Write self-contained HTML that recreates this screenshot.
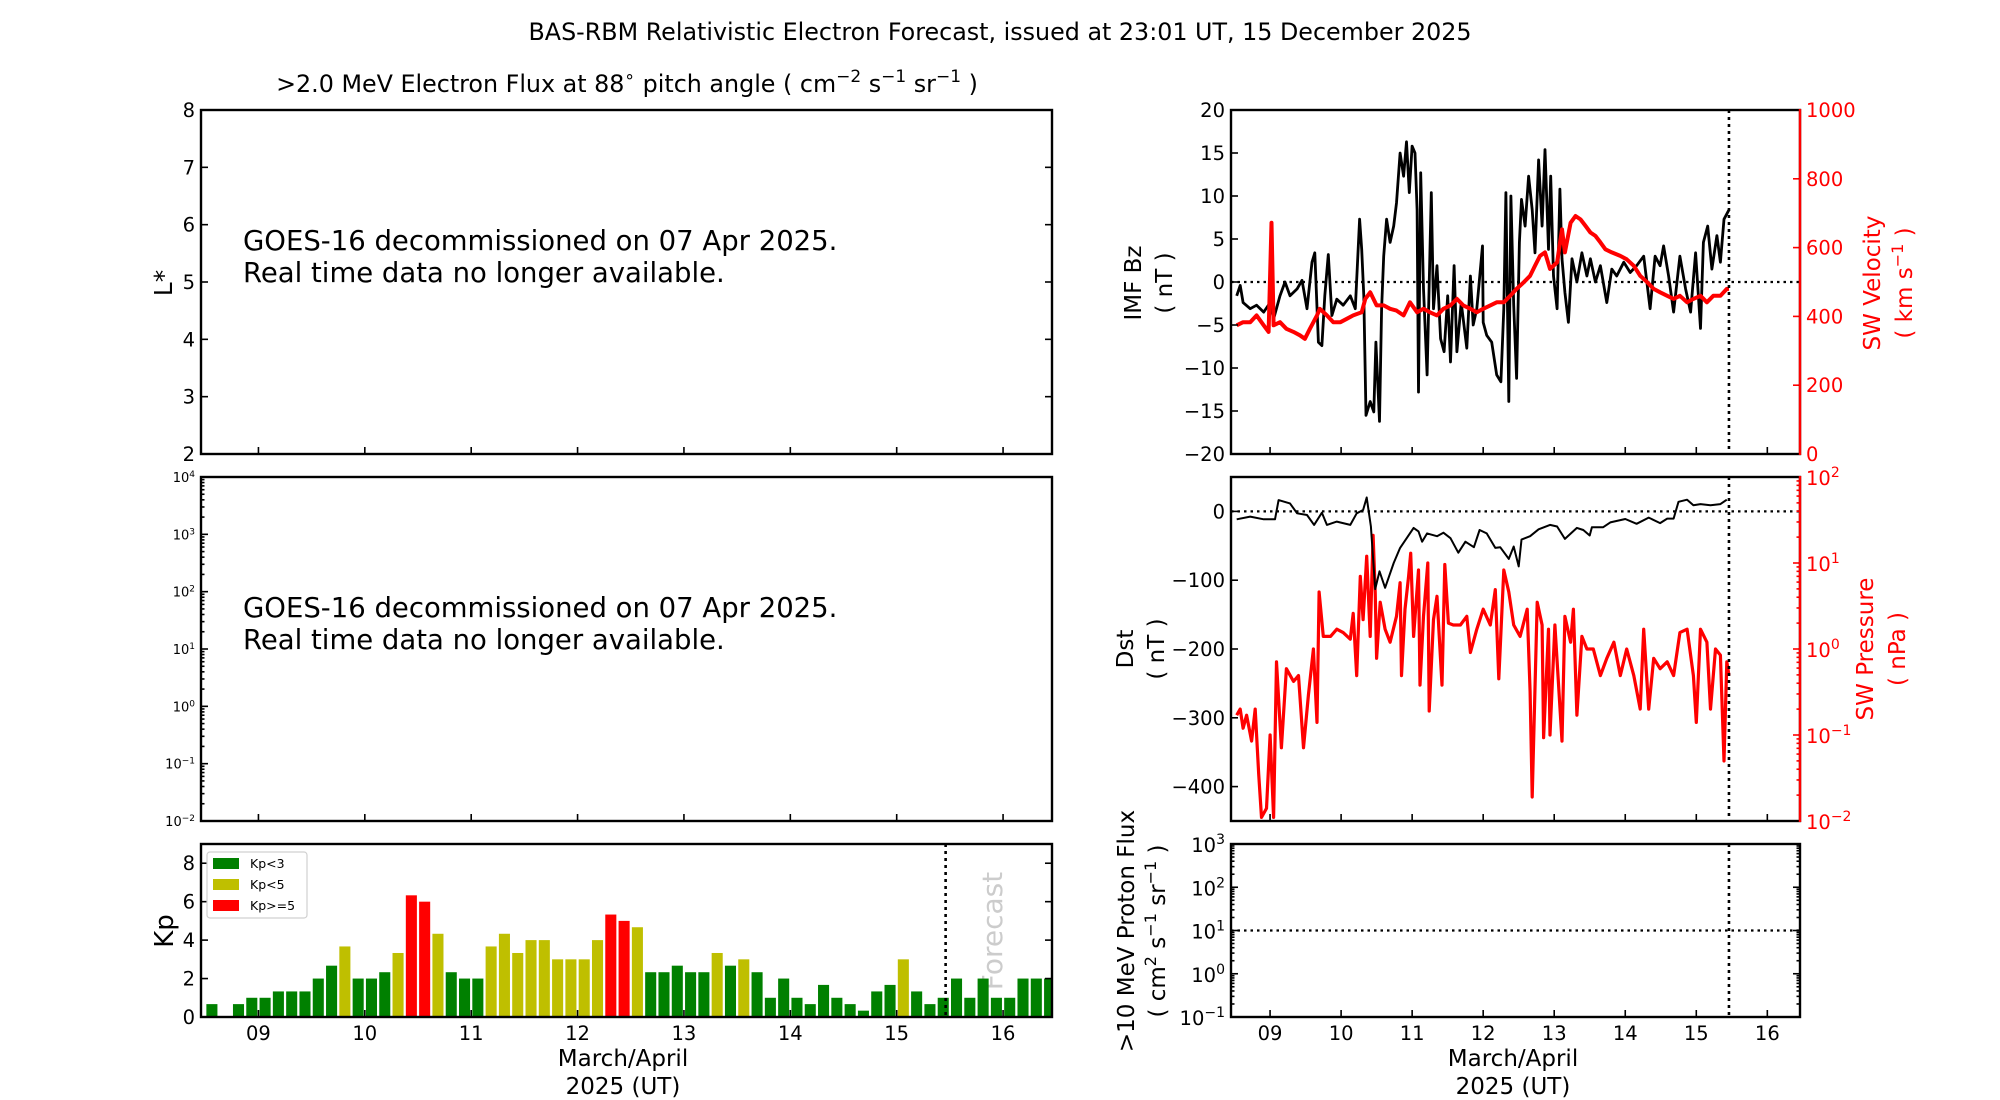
<!DOCTYPE html>
<html><head><meta charset="utf-8"><title>BAS-RBM Forecast</title>
<style>
html,body{margin:0;padding:0;background:#fff;}
svg{display:block;font-family:"DejaVu Sans","Liberation Sans",sans-serif;}
</style></head>
<body>
<svg id="chart" xmlns="http://www.w3.org/2000/svg" width="2000" height="1100" viewBox="0 0 2000 1100">
<rect x="0" y="0" width="2000" height="1100" fill="#fff"/>
<text x="1000" y="40" text-anchor="middle" font-size="23.8">BAS-RBM Relativistic Electron Forecast, issued at 23:01 UT, 15 December 2025</text>
<text x="627" y="92" text-anchor="middle" font-size="23.8">&gt;2.0 MeV Electron Flux at 88<tspan font-size="17" baseline-shift="super">∘</tspan> pitch angle ( cm<tspan font-size="17" baseline-shift="super">−2</tspan> s<tspan font-size="17" baseline-shift="super">−1</tspan> sr<tspan font-size="17" baseline-shift="super">−1</tspan> )</text>

<text x="243" y="250" font-size="27.5">GOES-16 decommissioned on 07 Apr 2025.</text>
<text x="243" y="282" font-size="27.5">Real time data no longer available.</text>
<text x="243" y="617" font-size="27.5">GOES-16 decommissioned on 07 Apr 2025.</text>
<text x="243" y="649" font-size="27.5">Real time data no longer available.</text>

<text x="172" y="283" font-size="25" text-anchor="middle" transform="rotate(-90 172 283)">L*</text>
<text x="173" y="931" font-size="26" text-anchor="middle" transform="rotate(-90 173 931)">Kp</text>
<text x="1002" y="931" font-size="28" fill="#cccccc" text-anchor="middle" transform="rotate(-90 1002 931)">Forecast</text>

<text x="623" y="1066" font-size="23" text-anchor="middle">March/April</text>
<text x="623" y="1094" font-size="23" text-anchor="middle">2025 (UT)</text>
<text x="1513" y="1066" font-size="23" text-anchor="middle">March/April</text>
<text x="1513" y="1094" font-size="23" text-anchor="middle">2025 (UT)</text>

<text x="1141" y="283" font-size="23" text-anchor="middle" transform="rotate(-90 1141 283)">IMF Bz</text>
<text x="1172" y="283" font-size="23" text-anchor="middle" transform="rotate(-90 1172 283)">( nT )</text>
<text x="1880" y="283" font-size="23" fill="#ff0000" text-anchor="middle" transform="rotate(-90 1880 283)">SW Velocity</text>
<text x="1912" y="283" font-size="23" fill="#ff0000" text-anchor="middle" transform="rotate(-90 1912 283)">( km s<tspan font-size="16" baseline-shift="super">−1</tspan> )</text>
<text x="1133" y="649" font-size="23" text-anchor="middle" transform="rotate(-90 1133 649)">Dst</text>
<text x="1164" y="649" font-size="23" text-anchor="middle" transform="rotate(-90 1164 649)">( nT )</text>
<text x="1873" y="649" font-size="23" fill="#ff0000" text-anchor="middle" transform="rotate(-90 1873 649)">SW Pressure</text>
<text x="1905" y="649" font-size="23" fill="#ff0000" text-anchor="middle" transform="rotate(-90 1905 649)">( nPa )</text>
<text x="1134" y="931" font-size="23" text-anchor="middle" transform="rotate(-90 1134 931)">&gt;10 MeV Proton Flux</text>
<text x="1165" y="931" font-size="23" text-anchor="middle" transform="rotate(-90 1165 931)">( cm<tspan font-size="16" baseline-shift="super">2</tspan> s<tspan font-size="16" baseline-shift="super">−1</tspan> sr<tspan font-size="16" baseline-shift="super">−1</tspan> )</text>

<g id="layer"></g>

<g>
<rect x="207" y="852" width="100" height="66" rx="3" fill="#fff" stroke="#d0d0d0" stroke-width="1.2"/>
<rect x="213" y="858" width="26" height="11" fill="#008000"/>
<text x="250" y="868" font-size="12.5">Kp&lt;3</text>
<rect x="213" y="879" width="26" height="11" fill="#bfbf00"/>
<text x="250" y="889" font-size="12.5">Kp&lt;5</text>
<rect x="213" y="900" width="26" height="11" fill="#ff0000"/>
<text x="250" y="910" font-size="12.5">Kp&gt;=5</text>
</g>
</svg>
<script>
// ---------- data ----------
const kpStartDay = 8.5;
const kpValues = [0.67,0,0.67,1,1,1.33,1.33,1.33,2,2.67,3.67,2,2,2.33,3.33,6.33,6,4.33,2.33,2,2,3.67,4.33,3.33,4,4,3,3,3,4,5.33,5,4.67,2.33,2.33,2.67,2.33,2.33,3.33,2.67,3,2.33,1,2,1,0.67,1.67,1,0.67,0.33,1.33,1.67,3,1.33,0.67,1,2,1,2,1,1,2,2,2];
const dayTicks = [9,10,11,12,13,14,15,16];
const dayTickLabels = ["09","10","11","12","13","14","15","16"];
const forecastDay = 15.46;

const bzDays = [8.53,8.58,8.62,8.72,8.81,8.91,9.00,9.05,9.14,9.21,9.28,9.38,9.45,9.52,9.59,9.63,9.68,9.73,9.77,9.82,9.87,9.94,10.03,10.13,10.20,10.26,10.29,10.32,10.35,10.41,10.46,10.49,10.54,10.57,10.60,10.64,10.69,10.74,10.78,10.83,10.88,10.92,10.96,11.00,11.04,11.07,11.09,11.12,11.16,11.21,11.27,11.30,11.35,11.40,11.45,11.50,11.54,11.59,11.63,11.69,11.77,11.82,11.86,11.91,11.99,12.00,12.05,12.12,12.19,12.25,12.29,12.32,12.36,12.39,12.43,12.47,12.51,12.54,12.59,12.64,12.69,12.73,12.78,12.83,12.87,12.92,12.95,12.99,13.04,13.08,13.11,13.15,13.20,13.25,13.32,13.39,13.46,13.51,13.58,13.65,13.74,13.81,13.88,13.98,14.07,14.16,14.26,14.35,14.42,14.49,14.54,14.61,14.68,14.77,14.85,14.92,14.99,15.06,15.10,15.16,15.22,15.29,15.34,15.39,15.46];
const bzValues = [-1.6,-0.4,-2.4,-3.1,-2.7,-3.5,-2.4,-4.3,-1.6,0,-1.6,-0.8,0.2,-3.1,2.3,3.4,-7,-7.4,-1.6,3.2,-3.9,-2,-2.7,-1.6,-3.1,7.3,3.8,-1.6,-15.5,-13.9,-15.1,-7,-16.2,-3.1,3,7.3,4.6,6.5,9.2,15,12.3,16.3,10.4,15.8,15,8.4,-12.8,12.7,-0.8,-10.8,10.4,-3.1,1.9,-6.6,-8.1,-1.6,-9.3,1.9,-8.1,-2.4,-7.7,0.7,-5,-3.1,4.2,-4.7,-6.2,-7,-10.8,-11.6,-3.1,10.4,-13.9,10,-2.7,-11.2,4.6,9.6,6.5,12.3,8.4,3.4,14.2,6.5,15.4,3.8,12.3,0.7,-3.1,10.8,2.7,-1.2,-4.7,2.7,0,3.4,0.7,2.7,0,1.9,-2.4,1.5,0.7,2.3,1.1,1.9,3,-3.1,3,1.9,4.2,0.7,-3.5,3,-0.8,-3.5,3.4,-5.4,4.6,6.5,1.5,5.4,2.3,7.3,8.4];

const velDays = [8.53,8.62,8.72,8.81,8.91,8.98,9.02,9.05,9.14,9.23,9.33,9.42,9.49,9.56,9.66,9.70,9.80,9.89,9.99,10.08,10.17,10.29,10.34,10.41,10.50,10.60,10.69,10.78,10.88,10.97,11.07,11.16,11.25,11.35,11.44,11.54,11.63,11.72,11.82,11.91,12.00,12.10,12.19,12.29,12.38,12.47,12.57,12.66,12.73,12.80,12.87,12.94,13.04,13.11,13.15,13.23,13.30,13.37,13.44,13.51,13.58,13.65,13.72,13.81,13.93,14.02,14.12,14.21,14.31,14.40,14.49,14.59,14.68,14.77,14.87,14.96,15.06,15.15,15.24,15.34,15.43,15.46];
const velValues = [374,383,383,403,374,355,672,374,383,364,355,345,335,364,403,422,403,383,383,393,403,412,451,470,432,432,422,417,403,441,412,422,412,403,422,432,451,432,422,412,422,432,441,441,460,480,499,518,547,576,586,538,557,653,586,672,692,682,663,644,634,615,595,586,576,566,547,518,499,480,470,460,451,460,441,451,460,441,460,460,480,480];

const dstDays = [8.53,8.72,8.91,9.07,9.12,9.28,9.38,9.52,9.62,9.73,9.80,9.94,10.13,10.22,10.31,10.36,10.42,10.48,10.54,10.62,10.74,10.83,11.02,11.09,11.14,11.21,11.35,11.44,11.54,11.65,11.75,11.87,11.95,12.05,12.17,12.24,12.36,12.43,12.50,12.54,12.66,12.78,12.94,13.04,13.15,13.32,13.41,13.50,13.53,13.69,13.79,14.00,14.16,14.33,14.49,14.59,14.68,14.75,14.87,14.96,15.06,15.20,15.34,15.43];
const dstValues = [-11.5,-7.6,-11.5,-11.5,16.4,11.6,-2.8,-5.2,-19.6,-1.9,-19.6,-14.8,-19.6,-2.8,2,20.2,-22,-113,-87,-111,-75,-53,-24,-29,-44,-32,-36,-31,-39,-60,-44,-52,-27,-32,-53,-52,-69,-51,-80,-41,-36,-26,-19.6,-22,-40,-24,-27,-35,-23,-23,-16,-11,-18,-9,-17,-10.5,-10.5,14,17,9,10.6,9,10.6,17];

const presDays = [8.53,8.58,8.62,8.67,8.74,8.79,8.84,8.88,8.95,9.00,9.05,9.09,9.16,9.23,9.33,9.40,9.47,9.54,9.61,9.66,9.69,9.75,9.85,9.94,10.03,10.13,10.17,10.22,10.27,10.31,10.36,10.41,10.45,10.48,10.50,10.55,10.62,10.69,10.78,10.83,10.85,10.90,10.95,10.98,11.02,11.09,11.11,11.16,11.22,11.24,11.30,11.35,11.42,11.46,11.51,11.58,11.68,11.77,11.82,11.91,12.00,12.10,12.17,12.22,12.29,12.36,12.43,12.52,12.62,12.66,12.69,12.76,12.83,12.85,12.92,12.94,13.01,13.11,13.15,13.23,13.27,13.32,13.39,13.46,13.55,13.65,13.74,13.84,13.93,14.02,14.12,14.21,14.26,14.33,14.40,14.49,14.59,14.68,14.77,14.87,14.96,15.00,15.06,15.15,15.20,15.27,15.34,15.39,15.43,15.46];
const presValues = [0.17,0.20,0.12,0.17,0.085,0.20,0.035,0.011,0.014,0.10,0.011,0.71,0.071,0.59,0.42,0.49,0.071,0.29,1.0,0.14,4.6,1.4,1.4,1.7,1.55,1.3,2.6,0.49,7.0,2.2,12,1.4,21,4.6,0.78,3.5,1.7,1.2,2.4,5.9,0.49,2.9,7.0,13,1.4,8.3,0.38,2.4,10,0.19,2.2,4.1,0.38,9.6,2.0,1.9,1.9,2.4,0.91,1.7,2.9,1.9,4.9,0.45,8.3,4.6,1.9,1.4,2.9,0.32,0.019,3.5,1.9,0.093,1.7,0.10,1.9,0.085,2.4,1.2,2.9,0.17,1.4,1.0,1.0,0.49,0.78,1.2,0.49,1.0,0.49,0.2,1.7,0.2,0.78,0.59,0.71,0.49,1.55,1.7,0.49,0.14,1.7,1.2,0.2,1.0,0.85,0.05,0.71,0.49];

const protonThreshold = 10;
const lstarTicks = [2,3,4,5,6,7,8];
const fluxExps = [-2,-1,0,1,2,3,4];
const kpTicks = [0,2,4,6,8];
const bzTicks = [-20,-15,-10,-5,0,5,10,15,20];
const velTicks = [0,200,400,600,800,1000];
const dstTicks = [0,-100,-200,-300,-400];
const presExps = [-2,-1,0,1,2];
const protonExps = [-1,0,1,2,3];

// ---------- layout ----------
const NS = "http://www.w3.org/2000/svg";
const layer = document.getElementById('layer');
const L = {x0:201, x1:1052, d0:8.46, d1:16.46};
const R = {x0:1231, x1:1800, d0:8.45, d1:16.46};
const P1 = {y0:110, y1:454}, P2 = {y0:477, y1:821}, P3 = {y0:844, y1:1017};
const xL = d => L.x0 + (d - L.d0) / (L.d1 - L.d0) * (L.x1 - L.x0);
const xR = d => R.x0 + (d - R.d0) / (R.d1 - R.d0) * (R.x1 - R.x0);
const lin = (p, lo, hi) => v => p.y1 - (v - lo) / (hi - lo) * (p.y1 - p.y0);
const logS = (p, lo, hi) => v => p.y1 - (Math.log10(v) - lo) / (hi - lo) * (p.y1 - p.y0);
const yLstar = lin(P1, 2, 8);
const yFlux = logS(P2, -2, 4);
const yKp = lin(P3, 0, 9);
const yBz = lin(P1, -20, 20);
const yVel = lin(P1, 0, 1000);
const yDst = lin(P2, -450, 50);
const yPres = logS(P2, -2, 2);
const yProt = logS(P3, -1, 3);

function mk(tag, attrs, parent) {
  const e = document.createElementNS(NS, tag);
  for (const k in attrs) e.setAttribute(k, attrs[k]);
  (parent || layer).appendChild(e);
  return e;
}
function pathFrom(days, vals, xf, yf) {
  const n = Math.min(days.length, vals.length);
  let d = '';
  for (let i = 0; i < n; i++) d += (i ? 'L' : 'M') + xf(days[i]).toFixed(1) + ',' + yf(vals[i]).toFixed(1);
  return d;
}
function powLabel(x, y, exp, anchor, size, color) {
  const t = mk('text', {x:x, y:y, 'text-anchor':anchor, 'font-size':size, fill:color});
  t.appendChild(document.createTextNode('10'));
  const s = mk('tspan', {'font-size':Math.round(size*0.7), 'baseline-shift':'super'}, t);
  s.textContent = (exp < 0 ? '−' : '') + Math.abs(exp);
  return t;
}

// ---------- Kp bars ----------
const clipK = mk('clipPath', {id:'clipKp'});
mk('rect', {x:L.x0, y:P3.y0, width:L.x1-L.x0, height:P3.y1-P3.y0}, clipK);
const kpGroup = mk('g', {'clip-path':'url(#clipKp)'});


kpValues.forEach((v, i) => {
  const c = kpStartDay + (i + 0.5) * 0.125;
  const col = v < 3 ? '#008000' : (v < 5 ? '#bfbf00' : '#ff0000');
  const b = mk('rect', {x:xL(c - 0.052), y:yKp(v), width:xL(c + 0.052) - xL(c - 0.052), height:yKp(0) - yKp(v), fill:col}, kpGroup);
  
  
});

// ---------- right panel series ----------
const clipR1 = mk('clipPath', {id:'clipR1'});
mk('rect', {x:R.x0, y:P1.y0, width:R.x1-R.x0, height:P1.y1-P1.y0}, clipR1);
const clipR2 = mk('clipPath', {id:'clipR2'});
mk('rect', {x:R.x0, y:P2.y0, width:R.x1-R.x0, height:P2.y1-P2.y0}, clipR2);

const zBz = mk('line', {x1:R.x0, x2:R.x1, y1:yBz(0), y2:yBz(0), stroke:'#000', 'stroke-width':2.2, 'stroke-dasharray':'2.5,4'});


const bzLine = mk('path', {d:pathFrom(bzDays, bzValues, xR, yBz), fill:'none', stroke:'#000', 'stroke-width':2.8, 'stroke-linejoin':'round', 'clip-path':'url(#clipR1)'});


const velLine = mk('path', {d:pathFrom(velDays, velValues, xR, yVel), fill:'none', stroke:'#ff0000', 'stroke-width':4, 'stroke-linejoin':'round', 'clip-path':'url(#clipR1)'});



const presLine = mk('path', {d:pathFrom(presDays, presValues, xR, yPres), fill:'none', stroke:'#ff0000', 'stroke-width':3.2, 'stroke-linejoin':'round', 'clip-path':'url(#clipR2)'});


const zDst = mk('line', {x1:R.x0, x2:R.x1, y1:yDst(0), y2:yDst(0), stroke:'#000', 'stroke-width':2.2, 'stroke-dasharray':'2.5,4'});


const dstLine = mk('path', {d:pathFrom(dstDays, dstValues, xR, yDst), fill:'none', stroke:'#000', 'stroke-width':2, 'stroke-linejoin':'round', 'clip-path':'url(#clipR2)'});



const pThr = mk('line', {x1:R.x0, x2:R.x1, y1:yProt(protonThreshold), y2:yProt(protonThreshold), stroke:'#000', 'stroke-width':2.2, 'stroke-dasharray':'2.5,4'});



// forecast lines
[[xL(forecastDay), P3], [xR(forecastDay), P1], [xR(forecastDay), P2], [xR(forecastDay), P3]].forEach(([x, p]) => {
  const f = mk('line', {x1:x, x2:x, y1:p.y0, y2:p.y1, stroke:'#000', 'stroke-width':2.6, 'stroke-dasharray':'3,4'});
  
  
});

// ---------- frames & ticks ----------
function frame(x0, x1, p, name) {
  const r = mk('rect', {x:x0, y:p.y0, width:x1-x0, height:p.y1-p.y0, fill:'none', stroke:'#000', 'stroke-width':2.4});
  
  
}
function tick(x1, y1, x2, y2, col) {
  const t = mk('line', {x1:x1, y1:y1, x2:x2, y2:y2, stroke:col || '#000', 'stroke-width':1.6});
  
  
}
function yLabel(x, y, s, anchor, col) {
  const t = mk('text', {x:x, y:y + 7, 'text-anchor':anchor, 'font-size':19.5, fill:col || '#000'});
  t.textContent = s;
  
  
}
const fmt = v => (v < 0 ? '−' + Math.abs(v) : String(v));

[P1, P2, P3].forEach(p => dayTicks.forEach(d => tick(xL(d), p.y1, xL(d), p.y1 - 7)));
[P1, P2, P3].forEach(p => dayTicks.forEach(d => tick(xR(d), p.y1, xR(d), p.y1 - 7)));
dayTicks.forEach((d, i) => {
  const a = mk('text', {x:xL(d), y:1040, 'text-anchor':'middle', 'font-size':19.5});
  a.textContent = dayTickLabels[i];
  
  
  const b = mk('text', {x:xR(d), y:1040, 'text-anchor':'middle', 'font-size':19.5});
  b.textContent = dayTickLabels[i];
  
  
});

lstarTicks.forEach(v => { tick(L.x0, yLstar(v), L.x0 + 7, yLstar(v)); tick(L.x1, yLstar(v), L.x1 - 7, yLstar(v)); yLabel(L.x0 - 6, yLstar(v), String(v), 'end'); });
fluxExps.forEach(e => {
  tick(L.x0, yFlux(Math.pow(10, e)), L.x0 + 7, yFlux(Math.pow(10, e)));
  const t = powLabel(L.x0 - 6, yFlux(Math.pow(10, e)) + 5, e, 'end', 13, '#000');
  
  
  if (e < 4) for (let m = 2; m < 10; m++) tick(L.x0, yFlux(m * Math.pow(10, e)), L.x0 + 3.5, yFlux(m * Math.pow(10, e)));
});
kpTicks.forEach(v => { tick(L.x0, yKp(v), L.x0 + 7, yKp(v)); tick(L.x1, yKp(v), L.x1 - 7, yKp(v)); yLabel(L.x0 - 6, yKp(v), String(v), 'end'); });

bzTicks.forEach(v => { tick(R.x0, yBz(v), R.x0 + 7, yBz(v)); yLabel(R.x0 - 6, yBz(v), fmt(v), 'end'); });
velTicks.forEach(v => { tick(R.x1, yVel(v), R.x1 - 7, yVel(v), '#ff0000'); yLabel(R.x1 + 6, yVel(v), String(v), 'start', '#ff0000'); });
dstTicks.forEach(v => { tick(R.x0, yDst(v), R.x0 + 7, yDst(v)); yLabel(R.x0 - 6, yDst(v), fmt(v), 'end'); });
presExps.forEach(e => {
  const y = yPres(Math.pow(10, e));
  tick(R.x1, y, R.x1 - 7, y, '#ff0000');
  const t = powLabel(R.x1 + 6, y + 8, e, 'start', 19.5, '#ff0000');
  
  
  if (e < 2) for (let m = 2; m < 10; m++) tick(R.x1, yPres(m * Math.pow(10, e)), R.x1 - 3.5, yPres(m * Math.pow(10, e)), '#ff0000');
});
protonExps.forEach(e => {
  const y = yProt(Math.pow(10, e));
  tick(R.x0, y, R.x0 + 7, y);
  tick(R.x1, y, R.x1 - 7, y);
  const t = powLabel(R.x0 - 6, y + 8, e, 'end', 19.5, '#000');
  
  
  if (e < 3) for (let m = 2; m < 10; m++) { tick(R.x0, yProt(m * Math.pow(10, e)), R.x0 + 3.5, yProt(m * Math.pow(10, e))); tick(R.x1, yProt(m * Math.pow(10, e)), R.x1 - 3.5, yProt(m * Math.pow(10, e))); }
});

frame(L.x0, L.x1, P1, 'lstar-flux-panel-frame');
frame(L.x0, L.x1, P2, 'flux-log-panel-frame');
frame(L.x0, L.x1, P3, 'kp-panel-frame');
frame(R.x0, R.x1, P1, 'bz-velocity-panel-frame');
frame(R.x0, R.x1, P2, 'dst-pressure-panel-frame');
frame(R.x0, R.x1, P3, 'proton-flux-panel-frame');
[P1, P2].forEach(p => {
  const s = mk('line', {x1:R.x1, x2:R.x1, y1:p.y0 - 1, y2:p.y1 + 1, stroke:'#ff0000', 'stroke-width':2.4});
  
  
});
</script>
</body></html>
